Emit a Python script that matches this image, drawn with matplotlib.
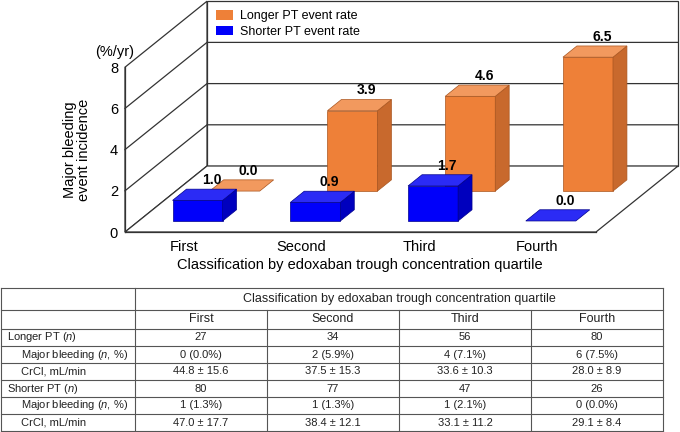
import numpy as np
import matplotlib.pyplot as plt
from matplotlib.patches import Polygon, Patch

plt.rcParams['font.family'] = ['Liberation Sans', 'DejaVu Sans']
plt.rcParams['mathtext.fontset'] = 'custom'
plt.rcParams['mathtext.rm'] = 'Liberation Sans'
plt.rcParams['mathtext.it'] = 'Liberation Sans:italic'

# data
quartiles = ["First", "Second", "Third", "Fourth"]
longer_rate = [0.0, 3.9, 4.6, 6.5]
shorter_rate = [1.0, 0.9, 1.7, 0.0]
yticks = [0, 2, 4, 6, 8]

table_header = "Classification by edoxaban trough concentration quartile"
longer_n = [27, 34, 56, 80]
longer_events = [0, 2, 4, 6]
longer_pct = [0.0, 5.9, 7.1, 7.5]
longer_crcl = [44.8, 37.5, 33.6, 28.0]
longer_crcl_sd = [15.6, 15.3, 10.3, 8.9]
shorter_n = [80, 77, 47, 26]
shorter_events = [1, 1, 1, 0]
shorter_pct = [1.3, 1.3, 2.1, 0.0]
shorter_crcl = [47.0, 38.4, 33.1, 29.1]
shorter_crcl_sd = [17.7, 12.1, 11.2, 8.4]
row_labels = ["Longer PT ($n$)", "Major bleeding ($n$, %)", "CrCl, mL/min",
              "Shorter PT ($n$)", "Major bleeding ($n$, %)", "CrCl, mL/min"]
row_indent = [False, True, True, False, True, True]

orange = dict(front='#EE8038', top='#F2995E', side='#C8692D', edge='#A9551F')
blue = dict(front='#0000FA', top='#2B2BF5', side='#0000BE', edge='#00008C')
line_c = '#333333'

W, H = 680, 432
fig = plt.figure(figsize=(W / 100, H / 100), dpi=100)

# ---- pseudo 3D bar chart ----
cat_px, val_px = 117.75, 20.6
x0_px, y0_px = 125, 232
ax = fig.add_axes([x0_px / W, (H - y0_px) / H, (W - x0_px) / W, y0_px / H])
ax.set_xlim(0, (W - x0_px) / cat_px)
ax.set_ylim(0, y0_px / val_px)
ax.patch.set_visible(False)

DX, DY = 82 / cat_px, 66 / val_px
ncat = len(quartiles)
ymax = yticks[-1]
bar_w = 0.425
depth = {'shorter': (0.167, 0.337), 'longer': (0.62, 0.79)}


def proj(x, v, d):
    return (x + d * DX, v + d * DY)


def wall(pts):
    ax.add_patch(Polygon(pts, closed=True, facecolor='white', edgecolor=line_c,
                         lw=0.9, zorder=1, clip_on=False))


wall([proj(0, 0, 1), proj(ncat, 0, 1), proj(ncat, ymax, 1), proj(0, ymax, 1)])
wall([proj(0, 0, 0), proj(0, 0, 1), proj(0, ymax, 1), proj(0, ymax, 0)])
wall([proj(0, 0, 0), proj(ncat, 0, 0), proj(ncat, 0, 1), proj(0, 0, 1)])
for v in yticks[1:-1]:
    pts = [proj(0, v, 0), proj(0, v, 1), proj(ncat, v, 1)]
    ax.plot([p[0] for p in pts], [p[1] for p in pts], color=line_c, lw=0.9,
            zorder=1.5, clip_on=False)


def draw_box(xc, h, d0, d1, c, z):
    xa, xb = xc - bar_w / 2, xc + bar_w / 2
    faces = []
    if h > 0:
        faces.append(([proj(xa, 0, d0), proj(xb, 0, d0), proj(xb, h, d0), proj(xa, h, d0)], c['front']))
        faces.append(([proj(xb, 0, d0), proj(xb, 0, d1), proj(xb, h, d1), proj(xb, h, d0)], c['side']))
    faces.append(([proj(xa, h, d0), proj(xb, h, d0), proj(xb, h, d1), proj(xa, h, d1)], c['top']))
    for pts, fc in faces:
        ax.add_patch(Polygon(pts, closed=True, facecolor=fc, edgecolor=c['edge'],
                             lw=0.5, zorder=z, clip_on=False))
    lx, ly = proj(xc, h, d1)
    ax.annotate(f"{h:.1f}", (lx, ly), xytext=(0, 1.5), textcoords='offset points',
                ha='center', va='bottom', fontsize=10, fontweight='bold',
                zorder=10, annotation_clip=False)


for i, h in enumerate(longer_rate):
    draw_box(i + 0.5, h, *depth['longer'], orange, 3)
for i, h in enumerate(shorter_rate):
    draw_box(i + 0.5, h, *depth['shorter'], blue, 4)

for s in ['top', 'right']:
    ax.spines[s].set_visible(False)
for s in ['left', 'bottom']:
    ax.spines[s].set_color(line_c)
    ax.spines[s].set_linewidth(0.9)
ax.spines['left'].set_bounds(0, ymax)
ax.spines['bottom'].set_bounds(0, ncat)
ax.set_yticks(yticks)
ax.set_xticks(np.arange(ncat) + 0.5, quartiles)
ax.tick_params(axis='y', length=0, pad=5, labelsize=10.5)
ax.tick_params(axis='x', length=0, pad=6, labelsize=10.5)
ax.set_xlabel("Classification by edoxaban trough concentration quartile", fontsize=10.5)
ax.xaxis.set_label_coords(0.423, -0.11)
ax.set_ylabel("Major bleeding\nevent incidence", fontsize=10.5, linespacing=1.0)
ax.yaxis.set_label_coords(-0.062, 0.353)
ax.annotate("(%/yr)", (0, ymax), xytext=(-10, 15), textcoords='offset pixels',
            ha='center', va='center', fontsize=10.5, annotation_clip=False)

ax.legend(handles=[Patch(facecolor=orange['front'], label="Longer PT event rate"),
                   Patch(facecolor=blue['front'], label="Shorter PT event rate")],
          loc='upper left', bbox_to_anchor=proj(0.034, ymax - 0.2, 1),
          bbox_transform=ax.transData, frameon=False, fontsize=9,
          handlelength=1.35, handleheight=0.75, handletextpad=0.6,
          labelspacing=0.3, borderaxespad=0, borderpad=0.4)

# ---- table ----
col_w = [134, 132, 132, 132, 132]
row_h = [22, 19, 17, 17, 17, 17, 17, 17]
tx0, ty0 = 1, 288
tab = fig.add_axes([tx0 / W, (H - ty0 - sum(row_h)) / H, sum(col_w) / W, sum(row_h) / H])
tab.set_xlim(0, sum(col_w))
tab.set_ylim(sum(row_h), 0)
tab.axis('off')

cx = np.concatenate([[0], np.cumsum(col_w)])
ry = np.concatenate([[0], np.cumsum(row_h)])
tl = dict(color='#555555', lw=0.8, clip_on=False)
for y in ry:
    tab.plot([cx[0], cx[-1]], [y, y], **tl)
for j, x in enumerate(cx):
    top = ry[1] if j in (2, 3, 4) else ry[0]
    tab.plot([x, x], [top, ry[-1]], **tl)

rows = []
for n, ev, pct, m, sd in [(longer_n, longer_events, longer_pct, longer_crcl, longer_crcl_sd),
                          (shorter_n, shorter_events, shorter_pct, shorter_crcl, shorter_crcl_sd)]:
    rows.append([str(v) for v in n])
    rows.append([f"{e} ({p:.1f}%)" for e, p in zip(ev, pct)])
    rows.append([f"{a:.1f} ± {b:.1f}" for a, b in zip(m, sd)])

mid = lambda a, b: (a + b) / 2
tc = '#222222'
tab.text(mid(cx[1], cx[-1]), mid(ry[0], ry[1]), table_header, ha='center', va='center',
         fontsize=9, color=tc)
for j, q in enumerate(quartiles):
    tab.text(mid(cx[j + 1], cx[j + 2]), mid(ry[1], ry[2]), q, ha='center', va='center',
             fontsize=9, color=tc)
for i, (lab, ind, vals) in enumerate(zip(row_labels, row_indent, rows)):
    yc = mid(ry[i + 2], ry[i + 3])
    tab.text(20 if ind else 6, yc, lab, ha='left', va='center', fontsize=8, color=tc)
    for j, s in enumerate(vals):
        tab.text(mid(cx[j + 1], cx[j + 2]), yc, s, ha='center', va='center',
                 fontsize=8, color=tc)

fig.savefig('out.png', dpi=100)
